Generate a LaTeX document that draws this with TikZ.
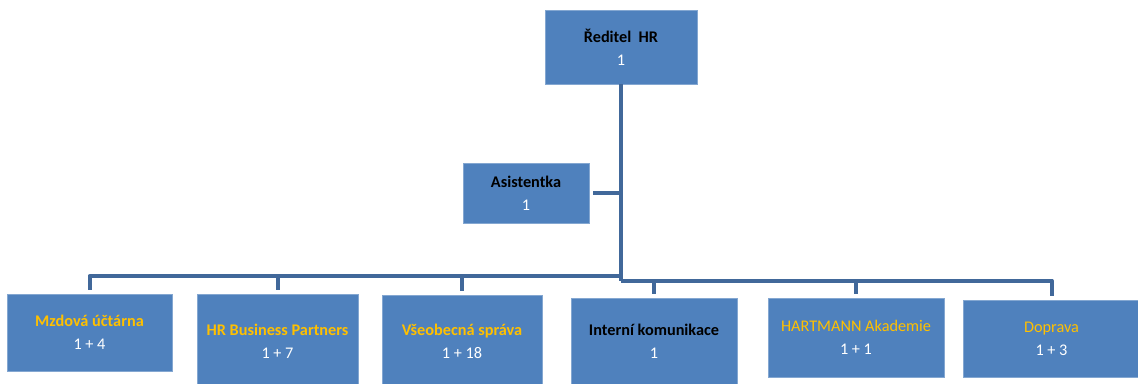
\documentclass[tikz,border=0pt]{standalone}
\usepackage{fontspec}
\setmainfont{Carlito}
\definecolor{boxblue}{HTML}{4F81BD}
\definecolor{lineblue}{HTML}{41689A}
\definecolor{gold}{HTML}{FFC000}
\def\pxu{0.75pt}
\tikzset{
  box/.style={rectangle, fill=boxblue, draw=boxblue!70!white, line width=0.4pt,
    align=center, inner sep=0pt, font=\fontsize{12.2}{17.5}\selectfont},
  conn/.style={draw=lineblue, line width=3pt, line join=round},
}
\newcommand{\ttl}[2]{\textbf{\textcolor{#1}{#2}}}
\newcommand{\num}[1]{\textcolor{white}{#1}}
\begin{document}
\begin{tikzpicture}[x=0.75pt,y=-0.75pt]
\useasboundingbox (0,0) rectangle (1138,383);
\clip (0,0) rectangle (1138,383);
\node[box, minimum width=152*\pxu, minimum height=74*\pxu] (dir) at (621,47) {\ttl{black}{Ředitel\ \ HR}\\\num{1}};
\node[box, minimum width=126*\pxu, minimum height=60*\pxu] (asi) at (526,193) {\ttl{black}{Asistentka}\\\num{1}};
\node[box, minimum width=165*\pxu, minimum height=77*\pxu] (mz) at (89.5,332.5) {\ttl{gold}{Mzdová účtárna}\\\num{1 + 4}};
\node[box, minimum width=161*\pxu, minimum height=95*\pxu] (hr) at (277.5,341.5) {\ttl{gold}{HR Business Partners}\\\num{1 + 7}};
\node[box, minimum width=160*\pxu, minimum height=93*\pxu] (vse) at (462,341.5) {\ttl{gold}{Všeobecná správa}\\\num{1 + 18}};
\node[box, minimum width=166*\pxu, minimum height=87*\pxu] (int) at (654,341.5) {\ttl{black}{Interní komunikace}\\\num{1}};
\node[box, minimum width=176*\pxu, minimum height=79*\pxu] (hart) at (856,337.5) {\textcolor{gold}{HARTMANN Akademie}\\\num{1 + 1}};
\node[box, minimum width=177*\pxu, minimum height=77*\pxu] (dop) at (1051.5,338.5) {\textcolor{gold}{Doprava}\\\num{1 + 3}};
\coordinate (jL) at (622,276);
\coordinate (jR) at (622,280.5);
% main trunk
\draw[conn] (dir.south) -- (dir.south |- jR);
% assistant
\draw[conn, shorten <=3pt] (asi.east) -- (asi.east -| dir.south);
% left bus
\draw[conn, shorten >=3pt] (jL) -| (mz.north);
\draw[conn, shorten >=3pt] (jL -| hr.north) -- (hr.north);
\draw[conn, shorten >=3pt] (jL -| vse.north) -- (vse.north);
% right bus
\draw[conn, shorten >=3pt] (dir.south |- jR) -| (dop.north);
\draw[conn, shorten >=3pt] (jR -| int.north) -- (int.north);
\draw[conn, shorten >=3pt] (jR -| hart.north) -- (hart.north);
\end{tikzpicture}
\end{document}
